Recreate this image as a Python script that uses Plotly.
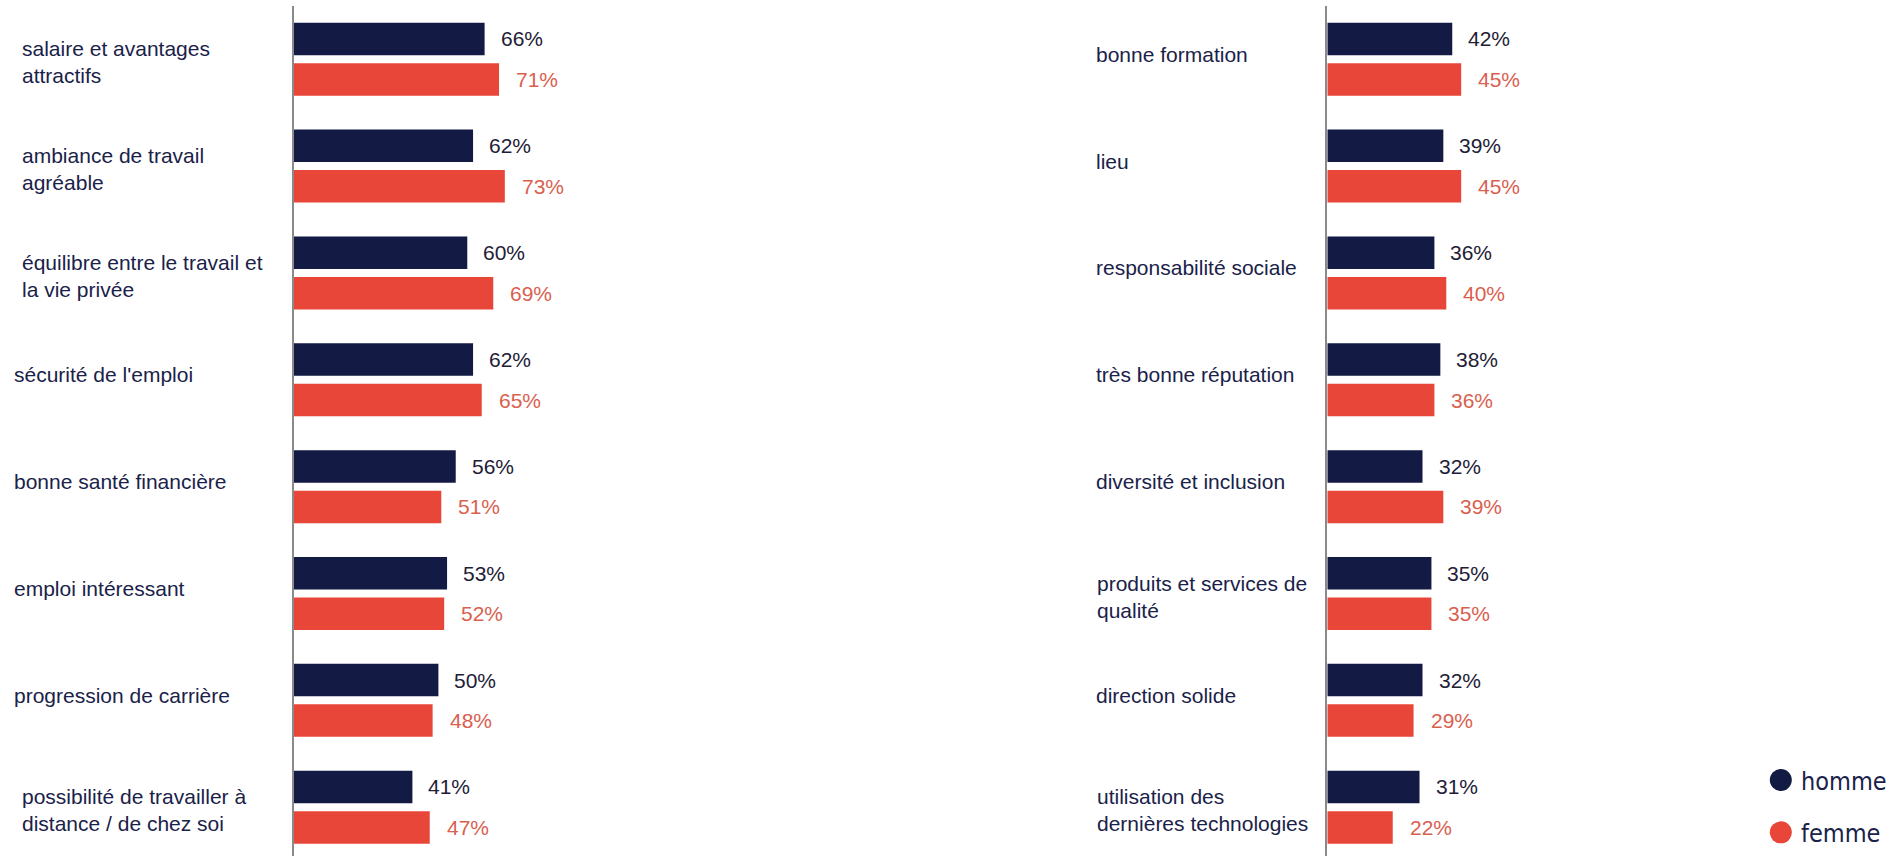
import plotly.graph_objects as go

# Facteurs d'attractivité d'un employeur, par sexe (en %)
categories_gauche = [
    "salaire et avantages<br>attractifs",
    "ambiance de travail<br>agréable",
    "équilibre entre le travail et<br>la vie privée",
    "sécurité de l'emploi",
    "bonne santé financière",
    "emploi intéressant",
    "progression de carrière",
    "possibilité de travailler à<br>distance / de chez soi",
]
homme_gauche = [66, 62, 60, 62, 56, 53, 50, 41]
femme_gauche = [71, 73, 69, 65, 51, 52, 48, 47]

categories_droite = [
    "bonne formation",
    "lieu",
    "responsabilité sociale",
    "très bonne réputation",
    "diversité et inclusion",
    "produits et services de<br>qualité",
    "direction solide",
    "utilisation des<br>dernières technologies",
]
homme_droite = [42, 39, 36, 38, 32, 35, 32, 31]
femme_droite = [45, 45, 40, 36, 39, 35, 29, 22]

series = ["homme", "femme"]

# Styles
W, H = 1898, 856
C_HOMME = "#131a44"
C_FEMME = "#e84638"
C_TXT_HOMME = "#1e2036"
C_TXT_FEMME = "#d9604f"
C_LABEL = "#1a2249"
FONT = "Liberation Sans, Arial, sans-serif"
LEGEND_FONT = "DejaVu Sans Condensed, DejaVu Sans, sans-serif"

# Geometry (pixels)
TOP = 6
PITCH = 106.86
FIRST_CENTER = 59.2
LEFT_AXIS_PX, LEFT_PX_PER_PCT = 294.0, 2.888
RIGHT_AXIS_PX, RIGHT_PX_PER_PCT = 1327.3, 2.975
LEFT_END, RIGHT_END = 0.46, 0.93

y_top = -(FIRST_CENTER - TOP) / PITCH
y_bot = (H - FIRST_CENTER) / PITCH
y_range = [y_bot, y_top]

left_dom = [LEFT_AXIS_PX / W, LEFT_END]
right_dom = [RIGHT_AXIS_PX / W, RIGHT_END]
left_max = (LEFT_END * W - LEFT_AXIS_PX) / LEFT_PX_PER_PCT
right_max = (RIGHT_END * W - RIGHT_AXIS_PX) / RIGHT_PX_PER_PCT

fig = go.Figure()

panels = [
    (categories_gauche, homme_gauche, femme_gauche, "x", "y"),
    (categories_droite, homme_droite, femme_droite, "x2", "y2"),
]

annotations = []
for cats, hom, fem, xa, ya in panels:
    for name, vals, col in ((series[0], hom, C_HOMME), (series[1], fem, C_FEMME)):
        fig.add_trace(go.Bar(
            name=name, y=cats, x=vals, orientation="h",
            marker=dict(color=col, line=dict(width=0)),
            xaxis=xa, yaxis=ya, showlegend=False, hoverinfo="skip",
        ))
    # value labels
    for c, h, f in zip(cats, hom, fem):
        annotations.append(dict(
            x=h, y=c, xref=xa, yref=ya, text=f"{h}%", showarrow=False,
            xanchor="left", yanchor="middle", xshift=14, yshift=20.25,
            font=dict(family=FONT, size=21, color=C_TXT_HOMME)))
        annotations.append(dict(
            x=f, y=c, xref=xa, yref=ya, text=f"{f}%", showarrow=False,
            xanchor="left", yanchor="middle", xshift=15, yshift=-20.25,
            font=dict(family=FONT, size=21, color=C_TXT_FEMME)))

# category labels (two-line labels sit slightly further right on the left panel)
label_cols = (
    (categories_gauche, 12, 20, "y"),
    (categories_droite, 1094, 1095, "y2"),
)
for cats, x_one, x_two, ya in label_cols:
    for c in cats:
        two = "<br>" in c
        annotations.append(dict(
            x=(x_two if two else x_one) / W, y=c, xref="paper", yref=ya,
            text=c, showarrow=False,
            xanchor="left", yanchor="middle", align="left",
            yshift=(-3 if two else 5),
            font=dict(family=FONT, size=21, color=C_LABEL)))

# legend
shapes = []
for name, col, cy in ((series[0], C_HOMME, 779.5), (series[1], C_FEMME, 832.2)):
    shapes.append(dict(
        type="circle", xref="paper", yref="paper",
        xsizemode="pixel", ysizemode="pixel",
        xanchor=1780.8 / W, yanchor=1 - cy / H,
        x0=-11, x1=11, y0=-11, y1=11,
        fillcolor=col, line=dict(width=0)))
    annotations.append(dict(
        x=1799 / W, y=1 - cy / H, xref="paper", yref="paper", text=name,
        showarrow=False, xanchor="left", yanchor="middle", yshift=-1,
        font=dict(family=LEGEND_FONT, size=25, color=C_LABEL)))

axis_common_y = dict(
    range=y_range, showline=True, linecolor="#8a8a8a", linewidth=2,
    showticklabels=False, ticks="", showgrid=False, zeroline=False,
    type="category", fixedrange=True,
)
axis_common_x = dict(
    showline=False, showticklabels=False, ticks="", showgrid=False,
    zeroline=False, fixedrange=True,
)

fig.update_layout(
    width=W, height=H,
    margin=dict(l=0, r=0, t=TOP, b=0),
    paper_bgcolor="white", plot_bgcolor="white",
    barmode="group", bargap=0.242, bargroupgap=0.1975,
    xaxis=dict(domain=left_dom, range=[0, left_max], anchor="y", **axis_common_x),
    xaxis2=dict(domain=right_dom, range=[0, right_max], anchor="y2", **axis_common_x),
    yaxis=dict(anchor="x", **axis_common_y),
    yaxis2=dict(anchor="x2", **axis_common_y),
    annotations=annotations,
    shapes=shapes,
    showlegend=False,
)

fig.write_html("out.html", config={"displayModeBar": False})
